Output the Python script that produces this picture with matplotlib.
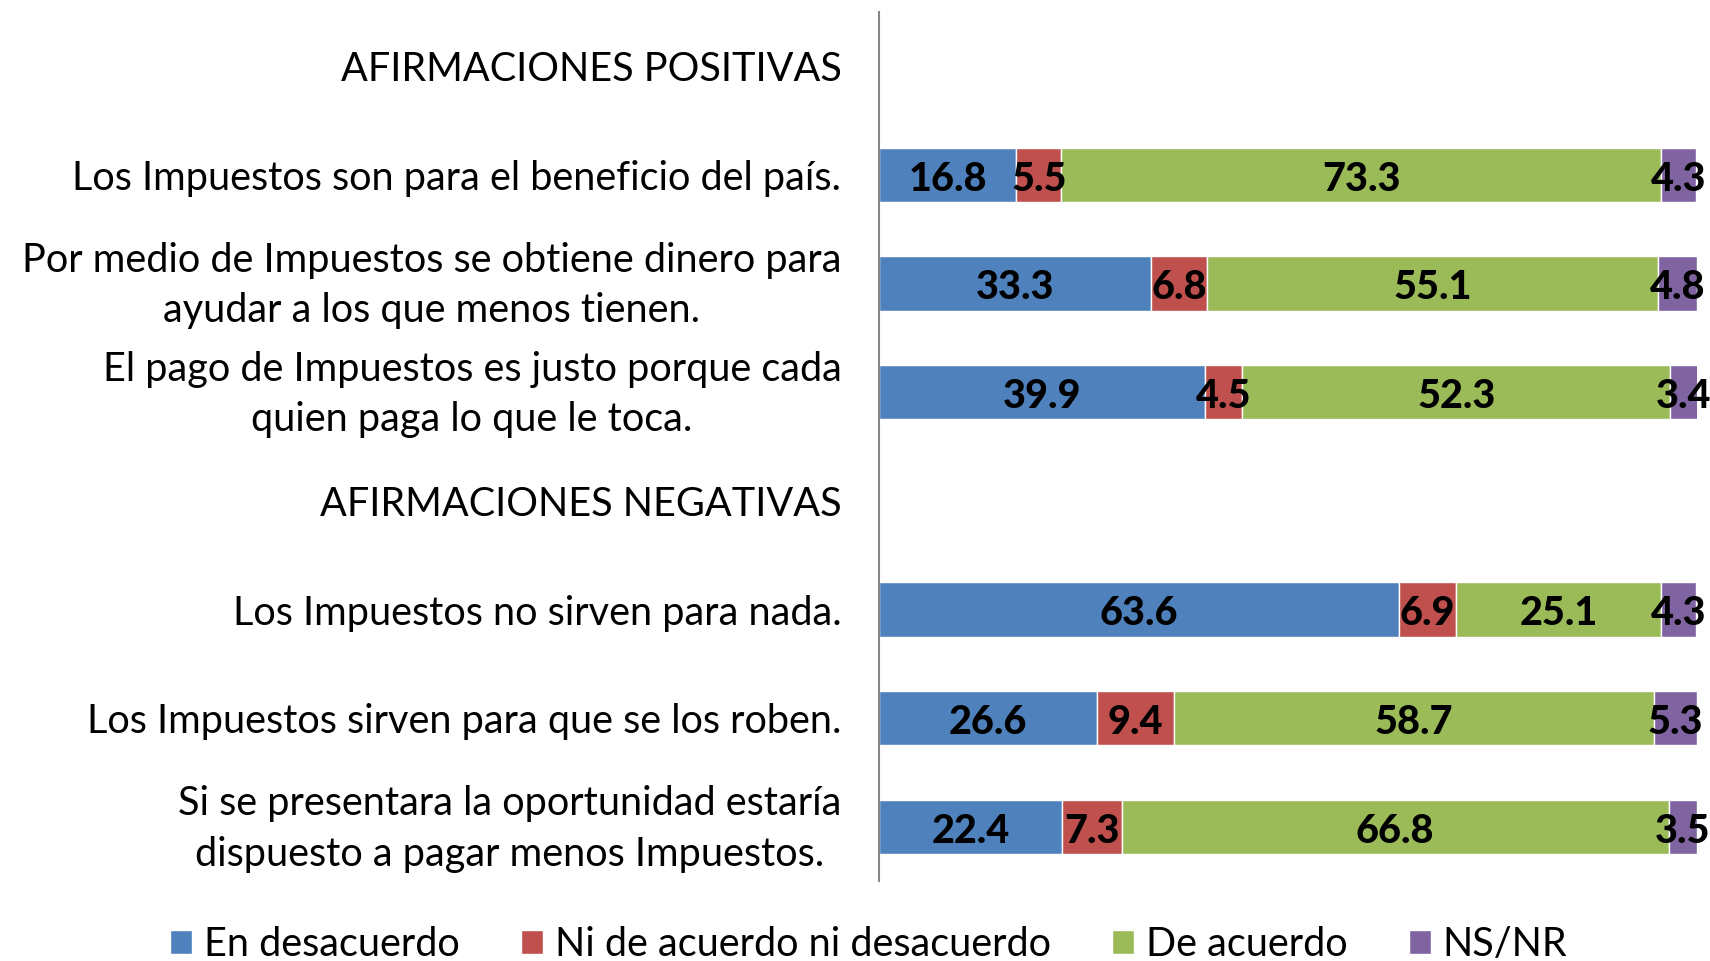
import numpy as np
import matplotlib.pyplot as plt

plt.rcParams['font.family'] = ['Lato', 'DejaVu Sans']

# categories from top to bottom (headers have no bars)
categorias = [
    "AFIRMACIONES POSITIVAS",
    "Los Impuestos son para el beneficio del país.",
    "Por medio de Impuestos se obtiene dinero para\nayudar a los que menos tienen.",
    "El pago de Impuestos es justo porque cada\nquien paga lo que le toca.",
    "AFIRMACIONES NEGATIVAS",
    "Los Impuestos no sirven para nada.",
    "Los Impuestos sirven para que se los roben.",
    "Si se presentara la oportunidad estaría\ndispuesto a pagar menos Impuestos.",
]
series = ["En desacuerdo", "Ni de acuerdo ni desacuerdo", "De acuerdo", "NS/NR"]
desacuerdo = [np.nan, 16.8, 33.3, 39.9, np.nan, 63.6, 26.6, 22.4]
ni_ni = [np.nan, 5.5, 6.8, 4.5, np.nan, 6.9, 9.4, 7.3]
acuerdo = [np.nan, 73.3, 55.1, 52.3, np.nan, 25.1, 58.7, 66.8]
nsnr = [np.nan, 4.3, 4.8, 3.4, np.nan, 4.3, 5.3, 3.5]
colores = ["#4F81BD", "#C0504D", "#9BBB59", "#8064A2"]

fig = plt.figure(figsize=(17.1, 9.61), dpi=100)
ax = fig.add_axes([0.514, 0.083, 0.4785, 0.9045])

y = np.arange(len(categorias))
left = np.zeros(len(categorias))
for vals, col, name in zip([desacuerdo, ni_ni, acuerdo, nsnr], colores, series):
    v = np.nan_to_num(np.array(vals, dtype=float))
    ax.barh(y, v, left=left, height=0.5, color=col, edgecolor="white",
            linewidth=1, label=name)
    for yi, vi, li in zip(y, vals, left):
        if not np.isnan(vi):
            ax.annotate(f"{vi:.1f}", (li + vi / 2, yi), xytext=(0, -3),
                        textcoords="offset points", ha="center", va="center",
                        fontsize=28.5, fontweight="black", color="black")
    left += v

ax.set_xlim(0, 100)
ax.set_ylim(len(categorias) - 0.5, -0.5)
ax.set_yticks(y)
ax.set_yticklabels([""] * len(categorias))
# category labels: multi-line ones centred like the original
for yi, txt in zip(y, categorias):
    two = "\n" in txt
    ax.annotate(txt, (0, yi), xycoords=ax.get_yaxis_transform(),
                xytext=(-27, -1.5 if two else 0), textcoords="offset points",
                ha="right", va="center" if two else "center_baseline",
                multialignment="center", linespacing=1.45, fontsize=28.5,
                annotation_clip=False)
ax.tick_params(axis="y", length=0)
ax.set_xticks([])
for s in ["top", "right", "bottom"]:
    ax.spines[s].set_visible(False)
ax.spines["left"].set_color("#888888")
ax.spines["left"].set_linewidth(1.5)

h, l = ax.get_legend_handles_labels()
fig.legend(h, l, loc="center", bbox_to_anchor=(0.508, 0.017), ncol=4, frameon=False,
           fontsize=28.5, handlelength=0.55, handleheight=0.55, handletextpad=0.3,
           columnspacing=1.55)

fig.savefig("out.png", dpi=100)
